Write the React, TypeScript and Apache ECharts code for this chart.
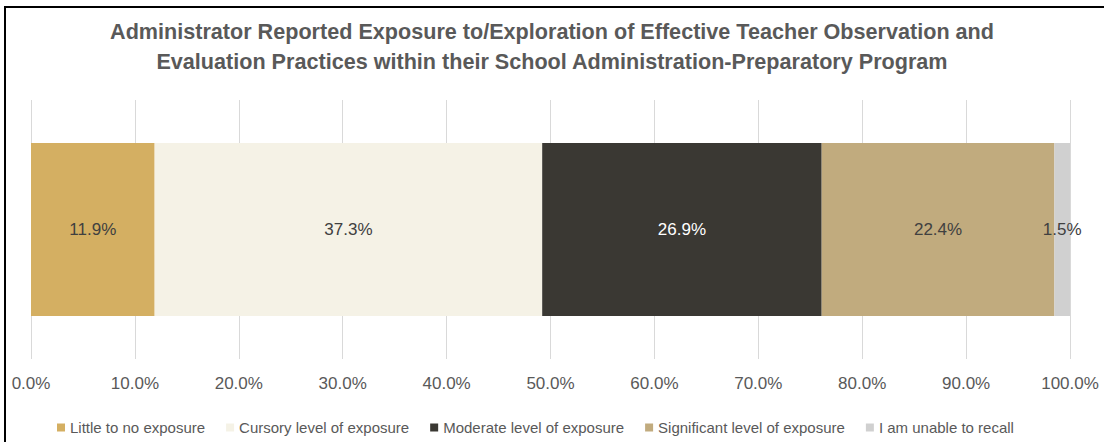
import React, { useEffect, useRef } from "react";
import * as echarts from "echarts";

const titleLines = [
  "Administrator Reported Exposure to/Exploration of Effective Teacher Observation and",
  "Evaluation Practices within their School Administration-Preparatory Program",
];
const categories = ["Exposure"];
const seriesNames = [
  "Little to no exposure",
  "Cursory level of exposure",
  "Moderate level of exposure",
  "Significant level of exposure",
  "I am unable to recall",
];
const seriesValues = [11.9, 37.3, 26.9, 22.4, 1.5];
const seriesColors = ["#D4AF62", "#F5F2E6", "#3A3833", "#C1AB7E", "#D0D0D0"];
const labelColors = ["#404040", "#404040", "#FFFFFF", "#404040", "#404040"];

const FONT = "'Liberation Sans', sans-serif";

export default function App() {
  const ref = useRef<HTMLDivElement>(null);
  useEffect(() => {
    if (!ref.current) return;
    const chart = echarts.init(ref.current, undefined, { renderer: "svg" });
    chart.setOption({
      animation: false,
      backgroundColor: "#FFFFFF",
      textStyle: { fontFamily: FONT },
      title: {
        text: titleLines.join("\n"),
        left: "center",
        top: 11,
        textStyle: {
          fontFamily: FONT,
          fontSize: 21.6,
          fontWeight: "bold",
          color: "#595959",
          lineHeight: 30,
        },
      },
      graphic: [
        {
          type: "rect",
          shape: { x: 5, y: 7, width: 1110, height: 460 },
          style: { fill: "none", stroke: "#000000", lineWidth: 2 },
          silent: true,
        },
      ],
      legend: {
        left: 52,
        top: 415,
        itemWidth: 8,
        itemHeight: 8,
        itemGap: 21,
        icon: "rect",
        textStyle: { fontFamily: FONT, fontSize: 15, color: "#595959" },
        data: seriesNames,
      },
      grid: { left: 31, right: 34, top: 100, bottom: 83 },
      xAxis: {
        type: "value",
        min: 0,
        max: 100,
        interval: 10,
        axisLine: { show: false },
        axisTick: { show: false },
        splitLine: { show: true, lineStyle: { color: "#D9D9D9", width: 1 } },
        axisLabel: {
          fontFamily: FONT,
          fontSize: 17,
          color: "#595959",
          margin: 16,
          formatter: (v: number) => `${v.toFixed(1)}%`,
        },
      },
      yAxis: {
        type: "category",
        data: categories,
        show: false,
      },
      series: seriesNames.map((name, i) => ({
        name,
        type: "bar",
        stack: "total",
        barWidth: 173,
        data: [seriesValues[i]],
        itemStyle: { color: seriesColors[i] },
        label: {
          show: true,
          position: "inside",
          fontFamily: FONT,
          fontSize: 17,
          color: labelColors[i],
          formatter: (p: any) => `${Number(p.value).toFixed(1)}%`,
        },
      })),
    });
    return () => chart.dispose();
  }, []);
  return (
    <div
      ref={ref}
      style={{ position: "absolute", left: 0, top: 0, width: 1104, height: 442 }}
    />
  );
}
